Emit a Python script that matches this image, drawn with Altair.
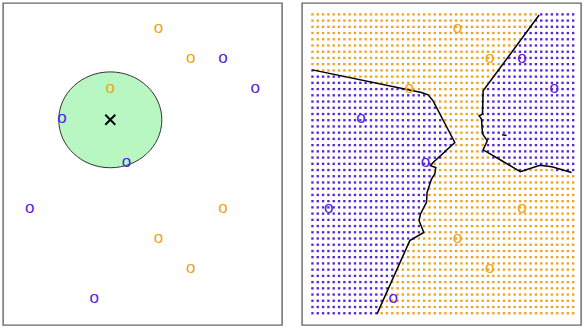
import altair as alt
import pandas as pd
import numpy as np

train_x = [5, 6, 3.5, 7, 5, 6, 7, 8, 2, 4, 1, 3]
train_y = [10, 9, 8, 4, 3, 2, 9, 8, 7, 5.53, 4, 1]
train_cls = ["orange"] * 6 + ["blue"] * 6

# Test point and neighbourhood radius
test_x = [3.5]
test_y = [7.0]
radius = 1.6

# Traced decision boundary (KNN, K=3)
b1_x = [0.494, 3.879, 4.084, 4.239, 4.913, 4.239, 4.158, 4.323, 4.292, 4.189,
        4.053, 4.034, 3.848, 3.804, 3.95, 3.516, 2.5]
b1_y = [8.667, 7.91, 7.833, 7.633, 6.243, 5.577, 5.467, 5.41, 5.19, 5.023,
        4.577, 4.243, 3.857, 3.633, 3.243, 2.967, 0.523]
b2_x = [7.531, 5.792, 5.773, 5.668, 5.742, 5.773, 5.922, 5.792, 6.373, 6.947,
        7.553, 7.925, 8.537]
b2_y = [10.5, 7.967, 7.19, 7.133, 7.023, 6.533, 6.3, 6.0, 5.633, 5.267,
        5.483, 5.433, 5.243]
b3_x = [6.38, 6.52]
b3_y = [6.5, 6.48]

# Grid extent
grid_x_min, grid_x_max, grid_nx = 0.494, 8.587, 50
grid_y_min, grid_y_max, grid_ny = 0.543, 10.52, 49
K = 3

XDOM = [0.17, 8.83]
YDOM = [0.15, 10.9]
W, H = 279, 322

ORANGE_TXT = "#EFA21E"
BLUE_TXT = "#5522DD"
ORANGE_DOT = "#D99A20"
BLUE_DOT = "#3A0CA8"

train = pd.DataFrame({"x": train_x, "y": train_y, "cls": train_cls, "lab": "o"})
test = pd.DataFrame({"x": test_x, "y": test_y})

gx, gy = np.meshgrid(np.linspace(grid_x_min, grid_x_max, grid_nx),
                     np.linspace(grid_y_min, grid_y_max, grid_ny))
gx = gx.ravel(); gy = gy.ravel()
tx = np.array(train_x); ty = np.array(train_y)
is_orange = np.array([c == "orange" for c in train_cls])
d = (gx[:, None] - tx[None, :]) ** 2 + (gy[:, None] - ty[None, :]) ** 2
nn = np.argsort(d, axis=1)[:, :K]
votes = is_orange[nn].sum(axis=1)
grid = pd.DataFrame({"x": gx, "y": gy,
                     "cls": np.where(votes * 2 > K, "orange", "blue")})

bnd = pd.DataFrame({
    "x": b1_x + b2_x + b3_x,
    "y": b1_y + b2_y + b3_y,
    "seg": ["a"] * len(b1_x) + ["b"] * len(b2_x) + ["c"] * len(b3_x),
    "ord": list(range(len(b1_x))) + list(range(len(b2_x))) + list(range(len(b3_x))),
})

xs = alt.Scale(domain=XDOM, nice=False, zero=False)
ys = alt.Scale(domain=YDOM, nice=False, zero=False)
X = lambda: alt.X("x:Q", scale=xs, axis=None)
Y = lambda: alt.Y("y:Q", scale=ys, axis=None)

txt_color = alt.Color("cls:N", scale=alt.Scale(domain=["orange", "blue"],
                                                 range=[ORANGE_TXT, BLUE_TXT]), legend=None)
dot_color = alt.Color("cls:N", scale=alt.Scale(domain=["orange", "blue"],
                                                 range=[ORANGE_DOT, BLUE_DOT]), legend=None)

px_x = W / (XDOM[1] - XDOM[0])
px_y = H / (YDOM[1] - YDOM[0])
dia_x = 2 * radius * px_x
ratio = px_y / px_x
ellipse = f"M-1,0A1,{ratio:.4f} 0 1,0 1,0A1,{ratio:.4f} 0 1,0 -1,0Z"

circle = alt.Chart(test).mark_point(
    shape=ellipse, size=dia_x ** 2, filled=True, fill="#B9F7C2",
    stroke="#333333", strokeWidth=1, opacity=1
).encode(x=X(), y=Y())

glyphs = alt.Chart(train).mark_text(
    font="Liberation Sans", fontSize=17, align="center", baseline="middle", dy=-2
).encode(x=X(), y=Y(), text="lab:N", color=txt_color)

cross = alt.Chart(test).mark_point(
    shape="M-1,-1L1,1M-1,1L1,-1", size=100, filled=False,
    stroke="black", strokeWidth=2, opacity=1
).encode(x=X(), y=Y())

left = alt.layer(circle, glyphs, cross).properties(width=W, height=H)

dots = alt.Chart(grid).mark_square(size=5.5, opacity=1).encode(
    x=X(), y=Y(), color=dot_color)

lines = alt.Chart(bnd).mark_line(color="black", strokeWidth=1.5).encode(
    x=X(), y=Y(), detail="seg:N", order="ord:Q")

right = alt.layer(dots, lines, glyphs).properties(width=W, height=H)

chart = alt.hconcat(left, right, spacing=18).properties(
    padding={"left": 2, "top": 2, "right": 0, "bottom": 0},
    background="white"
).configure_view(stroke="#666666", strokeWidth=1.4)

chart.save("out.html", embed_options={"renderer": "svg", "actions": False})
